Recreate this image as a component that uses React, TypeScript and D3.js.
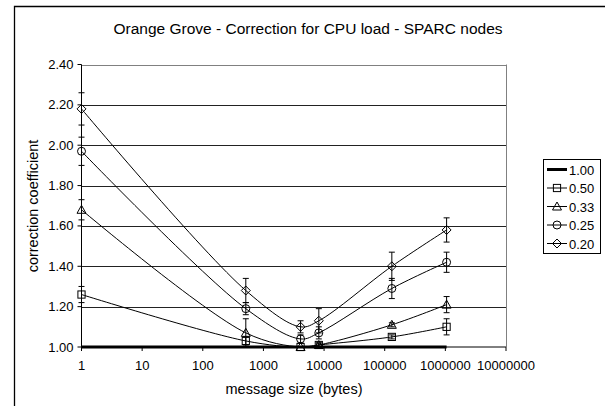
import React from "react";
import * as d3 from "d3";

const sizes = [1, 512, 4096, 8192, 131072, 1048576];
const seriesNames = ["1.00", "0.50", "0.33", "0.25", "0.20"];
const markers = ["none", "square", "triangle", "circle", "diamond"];
const v100 = [1.0, 1.0, 1.0, 1.0, 1.0, 1.0];
const v050 = [1.26, 1.03, 1.0, 1.01, 1.05, 1.1];
const v033 = [1.68, 1.07, 1.0, 1.01, 1.11, 1.21];
const v025 = [1.97, 1.19, 1.04, 1.07, 1.29, 1.42];
const v020 = [2.18, 1.28, 1.1, 1.13, 1.4, 1.58];
const e050 = [0.04, 0.02, 0.0, 0.01, 0.01, 0.04];
const e033 = [0.05, 0.07, 0.0, 0.01, 0.01, 0.04];
const e025 = [0.07, 0.03, 0.02, 0.03, 0.05, 0.05];
const e020 = [0.08, 0.06, 0.03, 0.06, 0.07, 0.06];
const yTicks = [1.0, 1.2, 1.4, 1.6, 1.8, 2.0, 2.2, 2.4];
const xTicks = [1, 10, 100, 1000, 10000, 100000, 1000000, 10000000];
const title = "Orange Grove - Correction for CPU load - SPARC nodes";
const xTitle = "message size (bytes)";
const yTitle = "correction coefficient";

const values = [v100, v050, v033, v025, v020];
const errors = [null, e050, e033, e025, e020];

const L = 81.5, R = 506, T = 64.5, B = 347;

function Marker({ type, x, y }: { type: string; x: number; y: number }) {
  const s = 3.6;
  if (type === "square")
    return <rect x={x - s} y={y - s} width={2 * s} height={2 * s} fill="none" stroke="#000" strokeWidth={1} />;
  if (type === "circle") return <circle cx={x} cy={y} r={4} fill="none" stroke="#000" strokeWidth={1} />;
  if (type === "triangle")
    return <path d={`M${x},${y - 4.5}L${x + 4.5},${y + 3.5}L${x - 4.5},${y + 3.5}Z`} fill="none" stroke="#000" strokeWidth={1} />;
  if (type === "diamond")
    return <path d={`M${x},${y - 4.5}L${x + 4.5},${y}L${x},${y + 4.5}L${x - 4.5},${y}Z`} fill="none" stroke="#000" strokeWidth={1} />;
  return null;
}

export default function App() {
  const x = d3.scaleLog().domain([1, 10000000]).range([L, R]);
  const y = d3.scaleLinear().domain([1.0, 2.4]).range([B, T]);
  const line = d3
    .line<number>()
    .x((_, i) => x(sizes[i]))
    .y((d) => y(d))
    .curve(d3.curveCatmullRom.alpha(0.5));
  const font = "Liberation Sans, Arial, sans-serif";
  const legX = 543, legY = 159;
  return (
    <svg width={605} height={406} style={{ position: "absolute", left: 0, top: 0 }} fontFamily={font}>
      <rect x={0} y={0} width={605} height={406} fill="#fff" />
      <path d={`M14.5,420V6.5H620`} fill="none" stroke="#000" strokeWidth={1.3} />
      <text x={308} y={34} textAnchor="middle" fontSize={15.5}>{title}</text>
      {/* grid */}
      {yTicks.slice(1).map((t) => (
        <line key={t} x1={L} x2={R} y1={Math.round(y(t)) + 0.5} y2={Math.round(y(t)) + 0.5} stroke={t === 2.4 ? "#808080" : "#222"} strokeWidth={1} />
      ))}
      <line x1={R + 0.5} x2={R + 0.5} y1={T} y2={B} stroke="#808080" />
      {/* axes */}
      <line x1={L} x2={L} y1={T} y2={B} stroke="#000" />
      <line x1={L} x2={R} y1={B} y2={B} stroke="#000" />
      {yTicks.map((t) => (
        <g key={t}>
          <line x1={L - 4} x2={L} y1={y(t)} y2={y(t)} stroke="#000" />
          <text x={L - 8} y={y(t) + 4.5} textAnchor="end" fontSize={13}>{t.toFixed(2)}</text>
        </g>
      ))}
      {xTicks.map((t) => (
        <g key={t}>
          <line x1={x(t)} x2={x(t)} y1={B} y2={B + 4} stroke="#000" />
          <text x={x(t)} y={B + 23} textAnchor="middle" fontSize={13}>{String(t)}</text>
        </g>
      ))}
      <text x={294} y={394} textAnchor="middle" fontSize={14.5}>{xTitle}</text>
      <text transform={`translate(38,206) rotate(-90)`} textAnchor="middle" fontSize={14.5}>{yTitle}</text>
      {/* series */}
      {values.map((vals, si) => (
        <g key={si}>
          <path d={line(vals) || ""} fill="none" stroke="#000" strokeWidth={si === 0 ? 3 : 1} />
          {errors[si] &&
            vals.map((v, i) => {
              const e = (errors[si] as number[])[i];
              if (e <= 0) return null;
              const cx = x(sizes[i]);
              return (
                <g key={i} stroke="#000" strokeWidth={1}>
                  <line x1={cx} x2={cx} y1={y(v + e)} y2={y(v - e)} />
                  <line x1={cx - 3} x2={cx + 3} y1={y(v + e)} y2={y(v + e)} />
                  <line x1={cx - 3} x2={cx + 3} y1={y(v - e)} y2={y(v - e)} />
                </g>
              );
            })}
          {vals.map((v, i) => (
            <Marker key={i} type={markers[si]} x={x(sizes[i])} y={y(v)} />
          ))}
        </g>
      ))}
      {/* legend */}
      <rect x={legX + 0.5} y={legY + 0.5} width={57} height={94} fill="#fff" stroke="#000" />
      {seriesNames.map((n, i) => {
        const ry = legY + 10.5 + i * 18.5;
        return (
          <g key={n}>
            <line x1={legX + 4} x2={legX + 24} y1={ry} y2={ry} stroke="#000" strokeWidth={i === 0 ? 3 : 1} />
            <Marker type={markers[i]} x={legX + 14} y={ry} />
            <text x={legX + 26} y={ry + 5} fontSize={13}>{n}</text>
          </g>
        );
      })}
    </svg>
  );
}
